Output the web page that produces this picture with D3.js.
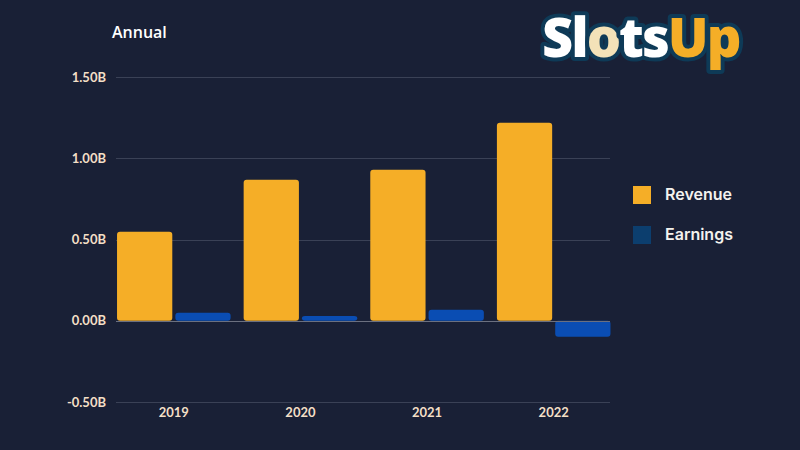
<!DOCTYPE html>
<html><head><meta charset="utf-8">
<script src="https://cdn.jsdelivr.net/npm/d3@7"></script>
<style>
html,body{margin:0;padding:0;background:#192036;}
svg{display:block;}
</style></head>
<body>
<script>
const categories = ["2019","2020","2021","2022"];
const revenue = [0.548, 0.868, 0.930, 1.219];
const earnings = [0.049, 0.030, 0.068, -0.098];
const yTicks = [-0.5, 0, 0.5, 1.0, 1.5];
const seriesNames = ["Revenue","Earnings"];

const W = 800, H = 450;
const svg = d3.select("body").append("svg").attr("width", W).attr("height", H);
svg.append("rect").attr("width", W).attr("height", H).attr("fill", "#192036");

const x = d3.scaleBand().domain(categories).range([110.5, 617]).paddingInner(0).paddingOuter(0);
const y = d3.scaleLinear().domain([-0.5, 1.5]).range([402, 77]);
const sub = d3.scaleBand().domain(seriesNames).range([0, x.bandwidth()]).paddingInner(0.052).paddingOuter(0.112);

const colors = {Revenue: "#F5AE27", Earnings: "#0A4DB3"};
const legendColors = {Revenue: "#F5AE27", Earnings: "#0C3E6E"};

// grid
svg.append("g").selectAll("line").data(yTicks).join("line")
  .attr("x1", 116).attr("x2", 610)
  .attr("y1", d => Math.round(y(d)) + 0.5).attr("y2", d => Math.round(y(d)) + 0.5)
  .attr("stroke", d => d === 0 ? "#6b7080" : "#3a4156").attr("stroke-width", 1);

// y labels
const fmt = d => (d < 0 ? "-" : "") + Math.abs(d).toFixed(2) + "B";
svg.append("g").selectAll("text").data(yTicks).join("text")
  .attr("x", 106).attr("y", d => y(d)).attr("dy", "0.35em")
  .attr("text-anchor", "end")
  .attr("font-family", "Lato, 'Open Sans', sans-serif").attr("font-weight", 700)
  .attr("font-size", 13).attr("fill", "#F3DFC6")
  .text(fmt);

// bars
const data = [];
categories.forEach((c, i) => {
  data.push({cat: c, s: "Revenue", v: revenue[i]});
  data.push({cat: c, s: "Earnings", v: earnings[i]});
});
svg.append("g").selectAll("rect").data(data).join("rect")
  .attr("x", d => x(d.cat) + sub(d.s))
  .attr("width", sub.bandwidth())
  .attr("y", d => y(Math.max(0, d.v)))
  .attr("height", d => Math.abs(y(d.v) - y(0)))
  .attr("rx", 3)
  .attr("fill", d => colors[d.s]);

// zero line on top
svg.append("line").attr("x1", 116).attr("x2", 610)
  .attr("y1", Math.round(y(0)) + 0.5).attr("y2", Math.round(y(0)) + 0.5)
  .attr("stroke", "#6b7080").attr("stroke-width", 1);

// x labels
svg.append("g").selectAll("text").data(categories).join("text")
  .attr("x", d => x(d) + x.bandwidth() / 2).attr("y", 417)
  .attr("text-anchor", "middle")
  .attr("font-family", "Lato, 'Open Sans', sans-serif").attr("font-weight", 700)
  .attr("font-size", 13).attr("fill", "#F3DFC6")
  .text(d => d);

// title
svg.append("text").attr("x", 112).attr("y", 38)
  .attr("font-family", "'Open Sans', Lato, sans-serif").attr("font-weight", 600)
  .attr("font-size", 16).attr("fill", "#ffffff").text("Annual");

// legend
const lg = svg.append("g").selectAll("g").data(seriesNames).join("g")
  .attr("transform", (d, i) => `translate(633, ${186 + i * 40})`);
lg.append("rect").attr("width", 18).attr("height", 18).attr("fill", d => legendColors[d]);
lg.append("text").attr("x", 32).attr("y", 8).attr("dy", "0.35em")
  .attr("font-family", "Inter, 'Open Sans', sans-serif").attr("font-weight", 600)
  .attr("font-size", 16).attr("fill", "#F4F2EE").text(d => d);

// logo
const logo = svg.append("text").attr("x", 542).attr("y", 57)
  .attr("font-family", "'Open Sans', Lato, sans-serif").attr("font-weight", 800)
  .attr("font-size", 54).attr("letter-spacing", -2)
  .attr("stroke", "#0E3A57").attr("stroke-width", 8).attr("paint-order", "stroke")
  .attr("stroke-linejoin", "round");
logo.append("tspan").attr("fill", "#ffffff").text("Sl");
logo.append("tspan").attr("fill", "#F3E2B8").text("o");
logo.append("tspan").attr("fill", "#ffffff").text("ts");
logo.append("tspan").attr("fill", "#F5AE27").text("Up");
</script>
</body></html>
